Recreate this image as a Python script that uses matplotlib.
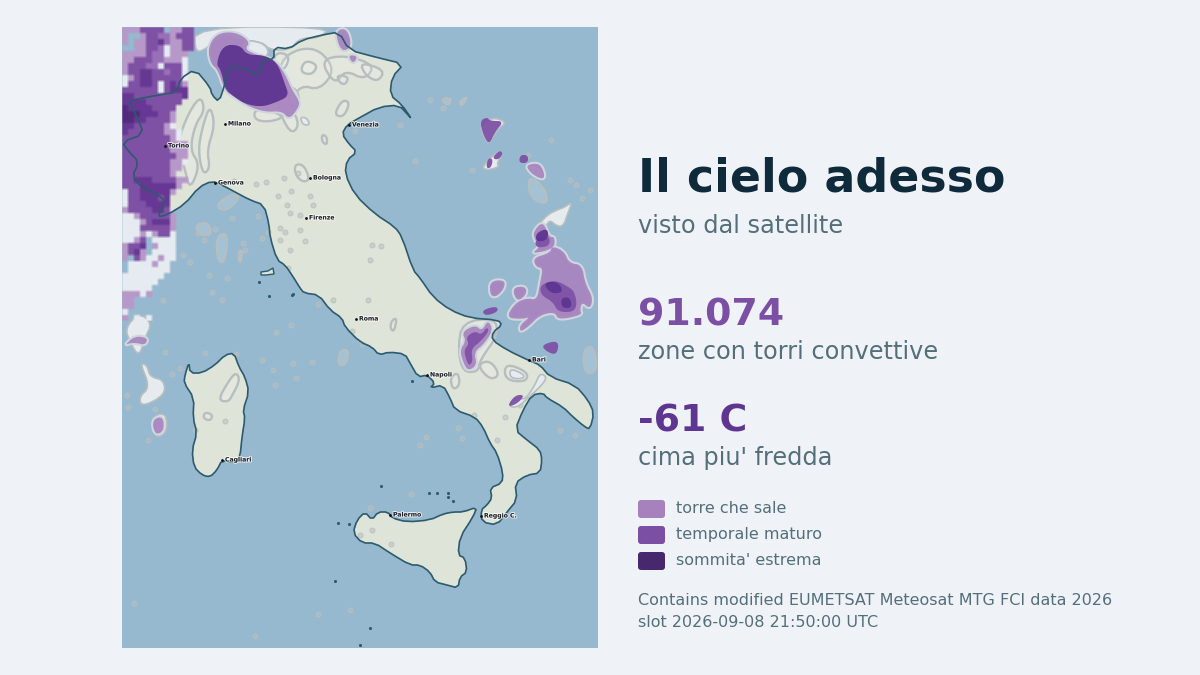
import numpy as np
import matplotlib
matplotlib.use("Agg")
import matplotlib.pyplot as plt
import matplotlib.patheffects as pe
from matplotlib.patches import Polygon, FancyBboxPatch

# ---- text content
TITLE = "Il cielo adesso"
SUBTITLE = "visto dal satellite"
STAT_VALUES = ["91.074", "-61 C"]
STAT_LABELS = ["zone con torri convettive", "cima piu' fredda"]
LEGEND_LABELS = ["torre che sale", "temporale maturo", "sommita' estrema"]
FOOTER = ["Contains modified EUMETSAT Meteosat MTG FCI data 2026",
          "slot 2026-09-08 21:50:00 UTC"]

# ---- digitised geography (map units)
ITALY = [(157,217),(167,215),(185,204),(199,187),(212,181),(222,185),(235,192),(250,200),(264,205),(269,224),(270,237),
 (277,260),(285,265),(292,275),(300,288),(304,293),(319,295),(330,310),(342,318),(345,327),(360,342),(372,347),(379,355),
 (389,352),(405,354),(410,363),(418,377),(427,375),(435,383),(430,388),(443,385),(450,398),(455,410),(475,417),(483,427),
 (490,443),(497,453),(503,473),(502,483),(490,488),(492,498),(487,505),(481,510),(482,522),(497,525),(507,512),(517,500),
 (515,483),(527,475),(540,473),(542,460),(540,450),(527,440),(515,430),(523,410),(532,395),(543,393),(547,398),(563,407),
 (573,417),(585,427),(590,429),(594,413),(588,400),(575,385),(550,377),(540,365),(530,361),(507,350),(492,340),(493,332),
 (502,325),(498,320),(470,318),(450,310),(433,297),(420,278),(413,270),(402,237),(395,227),(375,214),(355,195),(345,174),
 (347,160),(357,152),(349,144),(342,134),(347,125),(359,118),(379,107),(399,105),(409,116),(411,118),(402,105),(390,95),
 (392,77),(404,64),(375,57),(349,50),(339,32),(322,35),(302,40),(289,49),(274,47),(274,60),(262,59),(259,77),(249,70),
 (229,65),(225,84),(219,102),(212,95),(210,87),(195,69),(180,79),(177,92),(159,95),(137,99),(129,102),(137,117),(144,134),
 (122,142),(129,152),(139,162),(132,177),(142,187),(162,197),(165,204)]
SARDINIA = [(185,375),(189,362),(190,373),(202,373),(215,365),(225,355),(234,353),(239,367),(245,377),(249,392),(243,410),
 (245,418),(242,437),(240,457),(235,463),(222,460),(217,470),(210,477),(202,475),(194,467),(192,450),(197,433),(193,418),
 (194,398),(184,383)]
SICILY = [(353,533),(357,520),(365,512),(372,520),(378,512),(388,512),(392,518),(407,522),(430,520),(443,514),(453,512),
 (463,512),(477,507),(473,517),(460,537),(458,555),(465,558),(467,572),(460,577),(458,588),(447,585),(435,582),(430,572),
 (420,565),(410,565),(390,553),(375,543),(362,543)]
ELBA = [(261,272),(268,271),(273,268),(274,274),(266,275),(261,275)]
ISLETS = [(259,282),(269,296),(292,295),(293,294),(412,381),(335,581),(448,493),(381,486),(429,493),
 (437,493),(448,497),(453,501),(338,523),(349,524),(370,628),(360,645)]

# convective-tower raster, north-west corner: one row per scan line
RASTER_ROWS = [
 "lllmmmm.llmm", "l..lmmpplmmm", "l.llmmdpllmm", "..llmmpwllmm", "llllmppwlll", "llmmmpplllw", "lmmmppwmmmw",
 "lmmddmmpmmw", "wlmddmmmmmw", "wmmddmwmdml", "mmmmmmwmddd", "ddmmmmmmmmd", "ddddmmmmmm", "kddddmmmm",
 "kkkdddmml", "kkddmmmml", "ddmmmmmlw", "dmmmmmmllw", "mmmmmmmmlw", "mmmmmmmmlll", "mmmmmmmmlll",
 "mmmmmmmmmll", "mmmmmmmmllw", "mmmmmmmmll", "mmmmmmmml", "mmdddmmmmll", "mmmddddddl", "wmmdddddl",
 "wmmdddmd", "wmmmdddd", "lmmmmddm", "wwlmmmmml", "wwwlmdddl", "wwwmmmmml", "wwwlwlmmw",
 "wwlm.wwww", "lmmd.lwww", "lmdl.wwww", "l.mlwwlww", ".wwwwlww", ".wwwwwww", "wwwwwww",
 "wwwwww", "wwwww", "lllwl", "ll", "ll", "w", "l.w.w"]
RASTER_COLORS = {".": (0,0,0,0), "w": (0.90,0.925,0.945,1), "l": (0.72,0.60,0.79,1),
                 "p": (0.60,0.44,0.72,1), "m": (0.50,0.32,0.65,1), "d": (0.40,0.22,0.58,1), "k": (0.33,0.17,0.49,1)}

WHITE_CLOUDS = [
 [(195,27),(330,27),(320,38),(300,38),(290,50),(270,50),(262,42),(240,40),(225,32),(205,50),(195,52)],
 [(125,328),(139,313),(152,323),(145,338),(139,357),(130,342)],
 [(140,363),(147,365),(150,377),(164,380),(165,395),(142,407),(139,397),(150,387)],
 [(480,127),(492,117),(507,122),(497,130),(488,145),(483,133)],
 [(482,168),(490,158),(500,151),(502,155),(497,163),(499,167),(488,170)],
 [(528,167),(537,165),(544,172),(544,179),(537,177),(530,172)],
 [(572,202),(568,213),(563,227),(555,225),(550,220),(545,227),(535,233),(537,227),(547,215),(557,210),(565,207)],
 [(510,368),(525,375),(522,379),(510,378)],
 [(510,402),(517,397),(525,400),(535,385),(540,373),(547,377),(542,385),(528,398),(518,407),(510,407)],
 [(300,117),(307,118),(310,125),(303,125)],
 [(290,86),(297,90),(300,100),(296,108),(288,100)],
 [(150,418),(166,412),(167,433),(155,438)],
 [(240,40),(262,42),(270,52),(262,60),(248,55)],
]
LIGHT_CLOUDS = [
 [(213,38),(223,32),(238,33),(250,42),(245,49),(254,54),(275,60),(285,74),(292,90),(300,102),(297,110),(289,119),(282,111),
  (265,112),(248,106),(235,97),(225,91),(218,70),(211,64),(208,50)],
 [(125,345),(135,336),(148,338),(145,345),(137,343),(130,343)],
 [(533,232),(543,221),(549,237),(555,237),(554,249),(531,254),(540,247),(535,240)],
 [(533,258),(550,253),(552,246),(564,251),(569,263),(582,265),(585,283),(593,298),(590,309),(582,302),(580,310),(582,315),
  (558,320),(555,312),(540,315),(528,327),(520,332),(520,325),(530,317),(523,319),(506,318),(515,303),(527,298),(537,300),
  (540,283),(543,268),(536,267)],
 [(490,281),(505,280),(504,289),(496,297),(490,295)],
 [(512,288),(525,286),(527,294),(517,302)],
 [(152,420),(163,416),(164,431),(155,435)],
 [(526,165),(539,163),(544,172),(544,179),(537,177),(530,172)],
 [(335,31),(347,28),(352,47),(341,52)],
 [(348,55),(358,56),(353,64)],
 [(462,332),(475,325),(482,331),(488,320),(493,330),(484,344),(474,352),(477,365),(468,371),(463,362),(460,350),(466,341)],
]
MID_CLOUDS = [
 [(480,121),(487,117),(490,121),(504,121),(495,132),(489,145),(483,134)],
 [(486,168),(488,158),(493,159),(491,168)],
 [(492,158),(500,150),(503,154),(498,160)],
 [(482,310),(497,306),(498,312),(485,316)],
 [(466,337),(475,331),(481,335),(487,327),(489,331),(481,341),(471,349),(473,361),(469,366),(466,359),(464,350),(469,344)],
 [(541,345),(559,340),(557,355),(547,352)],
 [(507,407),(515,395),(525,395),(517,404)],
 [(540,285),(555,280),(567,286),(574,291),(577,303),(574,312),(558,312),(553,302),(541,295)],
 [(520,155),(528,155),(528,163),(519,163)],
 [(535,240),(549,235),(550,246),(536,248)],
]
DARK_CLOUDS = [
 [(223,45),(240,45),(247,55),(264,55),(277,62),(285,84),(289,96),(277,102),(262,107),(245,104),(233,96),(225,89),(221,70),(216,64)],
 [(536,233),(548,228),(548,240),(536,242)],
 [(543,283),(557,281),(564,292),(551,294)],
 [(561,298),(570,297),(572,308),(562,308)],
]
HALO_LOOPS = [
 [(280,60),(300,48),(320,50),(335,70),(320,90),(300,85),(290,105),(300,125),(290,135),(275,100)],
 [(320,60),(345,55),(375,65),(365,80),(345,70),(335,85)],
 [(200,95),(205,110),(195,125),(190,150),(200,165),(190,190),(185,170),(178,145),(185,120)],
 [(210,105),(215,125),(207,150),(210,168),(203,175),(198,150),(203,125)],
 [(295,164),(304,165),(310,180),(302,182),(295,174)],
 [(322,134),(327,137),(327,145),(322,142)],
 [(342,100),(350,102),(344,117),(334,115)],
 [(337,75),(349,77),(345,85),(339,82)],
 [(254,110),(269,110),(285,117),(269,122),(255,120)],
 [(462,322),(495,318),(498,335),(480,360),(478,372),(463,372),(458,350)],
 [(505,363),(528,372),(526,382),(505,380)],
 [(450,378),(458,372),(460,385),(453,390)],
 [(477,365),(490,360),(500,375),(490,380)],
 [(218,400),(228,382),(236,372),(240,380),(232,396),(228,402)],
 [(205,412),(213,415),(210,421),(203,418)],
 [(583,350),(593,345),(598,370),(585,375)],
 [(530,198),(528,175),(545,188),(548,205)],
 [(459,102),(468,96),(462,106)],
 [(441,99),(452,98),(448,106)],
 [(340,350),(349,350),(346,365),(338,365)],
 [(392,320),(397,318),(394,332),(390,328)],
 [(216,237),(228,232),(225,262),(218,262)],
 [(238,252),(243,250),(240,265)],
 [(195,225),(208,222),(212,235),(200,235)],
 [(215,205),(235,192),(240,198),(225,212)],
 [(275,52),(290,55),(285,70),(272,70)],
 [(305,60),(318,65),(312,75),(300,72)],
 [(360,62),(385,70),(378,82),(365,75)],
]
HALO_DOTS = [(198,233),(204,240),(215,229),(232,218),(243,243),(258,216),(268,232),(285,232),(280,240),(290,213),
 (163,300),(212,292),(222,300),(170,248),(183,255),(190,262),(209,275),(227,278),(245,250),(262,238),(280,228),(300,215),
 (278,196),(234,181),(256,184),(266,182),(284,178),(291,191),(310,196),(287,205),(298,173),(313,205),(300,230),(305,241),
 (290,250),(288,268),(372,245),(381,246),(370,260),(276,332),(291,325),(262,360),(273,370),(333,300),(318,304),(368,300),
 (352,331),(362,344),(426,437),(420,445),(458,428),(462,438),(474,415),(497,440),(505,417),(520,405),(560,430),(575,435),
 (551,140),(576,185),(582,198),(590,190),(570,180),(528,155),(472,170),(415,161),(443,108),(430,100),(355,131),(400,125),
 (293,363),(275,385),(296,378),(312,362),(236,354),(205,353),(165,352),(180,368),(148,440),(127,395),(128,407),(155,409),
 (172,374),(195,430),(225,421),(370,508),(411,494),(391,544),(372,530),(360,535),(134,603),(350,610),(318,614),(255,636)]

CITY_NAMES = ["Milano","Torino","Genova","Venezia","Bologna","Firenze","Roma","Napoli","Bari","Cagliari","Palermo","Reggio C."]
CITY_X = [225,165,215,349,310,306,356,427,529,222,390,481]
CITY_Y = [124,146,183,125,178,218,319,375,360,460,515,516]

# ---- styles
BG = "#eff3f8"; SEA = "#96b9cf"; LAND = "#dfe4d8"; COAST = "#2c5a6e"
C_LIGHT = "#a681bb"; C_MID = "#7b4fa3"; C_DARK = "#47286e"
INK = "#0f2a3a"; MUTED = "#546e7a"; STAT_COLORS = ["#7b4fa3", "#5e3590"]
plt.rcParams["font.family"] = ["DejaVu Sans"]


def smooth(points, passes=2):
    """Round off a digitised outline (corner cutting)."""
    p = np.asarray(points, float)
    for _ in range(passes):
        q = np.roll(p, -1, axis=0)
        p = np.column_stack([0.75*p + 0.25*q, 0.25*p + 0.75*q]).reshape(-1, 2)
    return p


def blur(a, n=3):
    kernel = np.ones(n) / n
    for axis in (0, 1):
        a = np.apply_along_axis(lambda v: np.convolve(v, kernel, mode="same"), axis, a)
    return a


fig = plt.figure(figsize=(12, 6.75), dpi=100, facecolor=BG)

# ---- map panel
ax = fig.add_axes([122/1200, 1-648/675, (598-122)/1200, (648-27)/675])
ax.set_xlim(122, 598); ax.set_ylim(648, 27); ax.set_axis_off()
ax.add_patch(plt.Rectangle((122, 27), 476, 621, fc=SEA, ec="none", zorder=0))

for land in (ITALY, SARDINIA, SICILY):
    ax.add_patch(Polygon(smooth(land, 1), closed=True, fc=LAND, ec="none", zorder=1))
ax.add_patch(Polygon(ELBA, closed=True, fc=LAND, ec="none", zorder=1))

HALO = "#b7bebf"
for loop in HALO_LOOPS:
    ax.add_patch(Polygon(smooth(loop), closed=True, fc=(1, 1, 1, 0.14), ec=HALO, lw=1.7, joinstyle="round", zorder=2))
hx, hy = zip(*HALO_DOTS)
ax.scatter(hx, hy, s=12, facecolor=(0.72, 0.75, 0.75, 0.55), edgecolor=(0.72, 0.75, 0.75, 0.8), linewidth=0.8, zorder=2)

for poly in WHITE_CLOUDS:
    ax.add_patch(Polygon(smooth(poly), closed=True, fc="#e6ebf0", ec=HALO, lw=1.2, joinstyle="round", zorder=3))
for poly in LIGHT_CLOUDS:
    ax.add_patch(Polygon(smooth(poly), closed=True, fc="none", ec="#ced7dd", lw=3.0, joinstyle="round", zorder=3))
for polys, col, z in ((LIGHT_CLOUDS, "#a985c0", 4), (MID_CLOUDS, "#7e52a6", 5), (DARK_CLOUDS, "#5e3590", 6)):
    for poly in polys:
        ax.add_patch(Polygon(smooth(poly), closed=True, fc=col, ec="none", zorder=z, alpha=0.95))

width = max(len(r) for r in RASTER_ROWS) + 1
rgba = np.array([[RASTER_COLORS[c] for c in row.ljust(width, ".")] for row in RASTER_ROWS])
rgba = np.repeat(np.repeat(rgba, 6, axis=0), 6, axis=1)
alpha = rgba[..., 3:]
premul = blur(np.concatenate([rgba[..., :3]*alpha, alpha], axis=2), 3)
a = np.clip(premul[..., 3:], 1e-6, 1)
img = np.concatenate([np.clip(premul[..., :3]/a, 0, 1), a], axis=2)
ax.imshow(img, extent=(122, 122 + 6*width, 27 + 6*len(RASTER_ROWS), 27),
          interpolation="nearest", aspect="auto", zorder=7)
ax.set_xlim(122, 598); ax.set_ylim(648, 27)

for land in (ITALY, SARDINIA, SICILY):
    ax.add_patch(Polygon(smooth(land, 1), closed=True, fc="none", ec=COAST, lw=1.2, joinstyle="round", zorder=8))
ax.add_patch(Polygon(ELBA, closed=True, fc="none", ec=COAST, lw=1.0, zorder=8))
ix, iy = zip(*ISLETS)
ax.scatter(ix, iy, s=5, color=COAST, linewidth=0, zorder=8)

halo = [pe.withStroke(linewidth=1.4, foreground=(1, 1, 1, 0.75))]
ax.scatter(CITY_X, CITY_Y, s=4, color="#111111", linewidth=0, zorder=9)
for name, x, y in zip(CITY_NAMES, CITY_X, CITY_Y):
    ax.text(x + 3, y, name, fontsize=4.4, fontweight="bold", color="#1c2226", va="center", ha="left",
            path_effects=halo, zorder=10)

# ---- right-hand text panel
tx = fig.add_axes([0, 0, 1, 1]); tx.set_xlim(0, 1200); tx.set_ylim(675, 0); tx.set_axis_off()
tx.patch.set_alpha(0)
X = 638
tx.text(X, 191, TITLE, fontsize=33, fontweight="bold", color=INK, va="baseline")
tx.text(X, 233, SUBTITLE, fontsize=17.3, color=MUTED, va="baseline")
for val, lab, col, y1, y2 in zip(STAT_VALUES, STAT_LABELS, STAT_COLORS, (326, 431), (359, 465)):
    tx.text(X, y1, val, fontsize=27.3, fontweight="bold", color=col, va="baseline")
    tx.text(X, y2, lab, fontsize=17.3, color=MUTED, va="baseline")
for lab, col, y in zip(LEGEND_LABELS, (C_LIGHT, C_MID, C_DARK), (500, 526, 552)):
    tx.add_patch(FancyBboxPatch((X + 3, y + 3), 21, 12, boxstyle="round,pad=3", fc=col, ec="none"))
    tx.text(X + 38, y + 13, lab, fontsize=11.55, color=MUTED, va="baseline")
for line, y in zip(FOOTER, (605, 627)):
    tx.text(X, y, line, fontsize=11.5, color=MUTED, va="baseline")

fig.savefig("out.png", dpi=100, facecolor=BG)
